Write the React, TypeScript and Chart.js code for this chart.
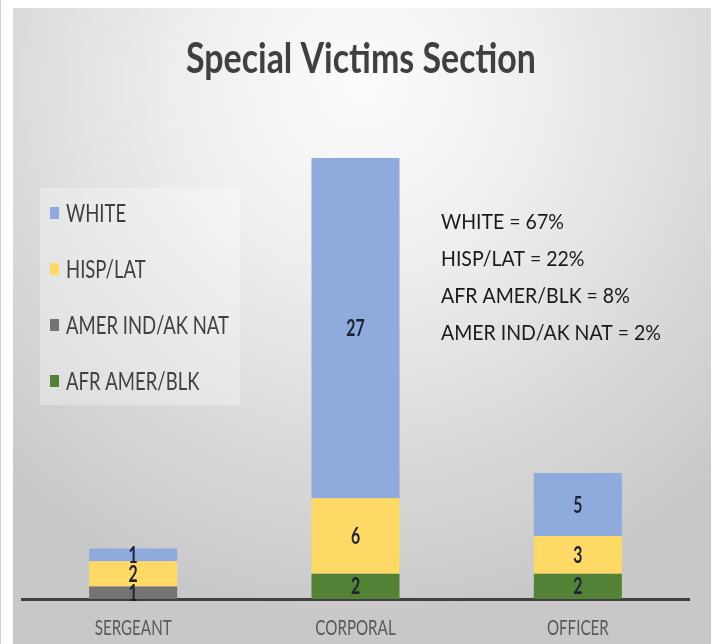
import React, { useEffect, useRef } from "react";
import { Chart, registerables } from "chart.js";

Chart.register(...registerables);

const categories = ["SERGEANT", "CORPORAL", "OFFICER"];
const afrAmerBlk = [0, 2, 2];
const amerIndAkNat = [1, 0, 0];
const hispLat = [2, 6, 3];
const white = [1, 27, 5];
const seriesLabels = ["AFR AMER/BLK", "AMER IND/AK NAT", "HISP/LAT", "WHITE"];
const seriesColors = ["#538135", "#747474", "#ffd966", "#8faadc"];
const titleText = "Special Victims Section";
const noteLines = [
  "WHITE = 67%",
  "HISP/LAT = 22%",
  "AFR AMER/BLK = 8%",
  "AMER IND/AK NAT = 2%",
];

const FONT = "Lato, 'Open Sans', sans-serif";

function squeezeFactor(ctx: CanvasRenderingContext2D, font: string, longest: string, target: number) {
  ctx.font = font;
  const w = ctx.measureText(longest).width;
  return w > 0 ? Math.min(1, target / w) : 1;
}

function drawSqueezed(
  ctx: CanvasRenderingContext2D,
  text: string,
  x: number,
  y: number,
  sx: number,
  align: CanvasTextAlign
) {
  ctx.save();
  ctx.translate(x, y);
  ctx.scale(sx, 1);
  ctx.textAlign = align;
  ctx.fillText(text, 0, 0);
  ctx.restore();
}

const decorPlugin = {
  id: "decor",
  beforeDatasetsDraw(chart: any) {
    const ctx: CanvasRenderingContext2D = chart.ctx;
    ctx.save();
    ctx.textBaseline = "alphabetic";
    // title
    const tFont = `bold 42px ${FONT}`;
    const tsx = squeezeFactor(ctx, tFont, titleText, 350);
    ctx.font = tFont;
    ctx.fillStyle = "#404040";
    drawSqueezed(ctx, titleText, chart.width / 2 - 1, 65, tsx, "center");

    // legend box
    ctx.fillStyle = "rgba(255,255,255,0.3)";
    ctx.fillRect(27, 180, 200, 217);
    const items = chart.data.datasets.slice().reverse();
    const lFont = `25px ${FONT}`;
    const lsx = squeezeFactor(ctx, lFont, "AMER IND/AK NAT", 163);
    ctx.font = lFont;
    items.forEach((ds: any, i: number) => {
      const base = 214 + i * 56;
      ctx.fillStyle = ds.backgroundColor;
      ctx.fillRect(37, base - 15, 9, 12);
      ctx.fillStyle = "#404040";
      drawSqueezed(ctx, ds.label, 53, base, lsx, "left");
    });

    // notes
    const nFont = `22px ${FONT}`;
    const nsx = squeezeFactor(ctx, nFont, noteLines[3], 220);
    ctx.font = nFont;
    ctx.fillStyle = "#1a1a1a";
    noteLines.forEach((t, i) => {
      drawSqueezed(ctx, t, 428, 221 + i * 37, nsx, "left");
    });

    // category labels from the x scale
    const xs = chart.scales.x;
    const cFont = `21px ${FONT}`;
    const csx = squeezeFactor(ctx, cFont, "SERGEANT", 77);
    ctx.font = cFont;
    ctx.fillStyle = "#595959";
    categories.forEach((c, i) => {
      drawSqueezed(ctx, c, xs.getPixelForTick(i), xs.bottom + 36, csx, "center");
    });
    ctx.restore();
  },
  afterDatasetsDraw(chart: any) {
    const ctx: CanvasRenderingContext2D = chart.ctx;
    ctx.save();
    ctx.fillStyle = "#1c2233";
    ctx.font = `bold 22px ${FONT}`;
    ctx.textBaseline = "middle";
    chart.data.datasets.forEach((ds: any, di: number) => {
      const meta = chart.getDatasetMeta(di);
      meta.data.forEach((el: any, i: number) => {
        const v = ds.data[i];
        if (!v) return;
        drawSqueezed(ctx, String(v), el.x, (el.y + el.base) / 2 + 1, 0.72, "center");
      });
    });
    ctx.restore();
  },
};

export default function App() {
  const ref = useRef<HTMLCanvasElement>(null);
  useEffect(() => {
    const values = [afrAmerBlk, amerIndAkNat, hispLat, white];
    const chart = new Chart(ref.current!, {
      type: "bar",
      data: {
        labels: categories,
        datasets: values.map((d, i) => ({
          label: seriesLabels[i],
          data: d,
          backgroundColor: seriesColors[i],
          borderWidth: 0,
          categoryPercentage: 1,
          barPercentage: 0.396,
        })),
      },
      options: {
        responsive: false,
        animation: false,
        layout: { padding: { top: 87, left: 9, right: 22, bottom: 45 } },
        plugins: {
          legend: { display: false },
          title: { display: false },
          tooltip: { enabled: false },
        },
        scales: {
          x: {
            stacked: true,
            grid: { display: false, drawTicks: false },
            border: { display: true, color: "#404040", width: 3 },
            ticks: { display: false },
          },
          y: {
            stacked: true,
            display: false,
            min: 0,
            max: 40,
          },
        },
      },
      plugins: [decorPlugin],
    });
    return () => chart.destroy();
  }, []);
  return (
    <div>
      <div
        style={{
          position: "fixed",
          left: 0,
          top: 0,
          width: 1,
          height: 644,
          background: "#cfcfcf",
        }}
      />
      <div
        style={{
          marginLeft: 5,
          width: 698,
          height: 636,
          background:
            "radial-gradient(ellipse 75% 85% at 50% 12%, #fcfcfc 0%, #eeeeee 35%, #d6d6d6 75%, #c8c8c8 100%)",
        }}
      >
        <canvas ref={ref} width={698} height={636} style={{ display: "block" }} />
      </div>
    </div>
  );
}
